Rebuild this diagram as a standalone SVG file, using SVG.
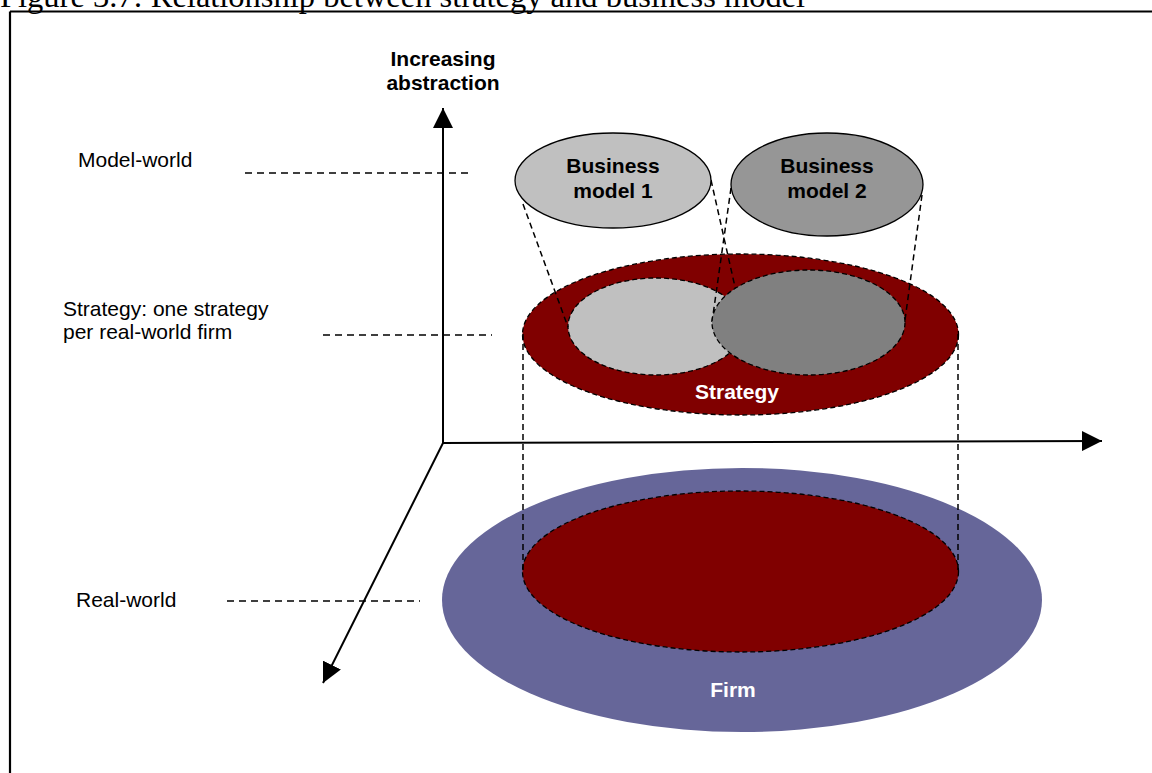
<svg xmlns="http://www.w3.org/2000/svg" width="1152" height="773" viewBox="0 0 1152 773">
<defs>
<style>
.lbl{font-family:"Liberation Sans",Arial,sans-serif;font-size:21px;fill:#000}
.bold{font-family:"Liberation Sans",Arial,sans-serif;font-size:21px;font-weight:bold;text-anchor:middle}
.axis{stroke:#000;stroke-width:2;fill:none}
.ref{stroke:#000;stroke-width:1.5;stroke-dasharray:7,5;fill:none}
.proj{stroke:#000;stroke-width:1.5;stroke-dasharray:6,4;fill:none}
.edge{stroke:#000;stroke-width:1.3;stroke-dasharray:5,3}
</style>
<marker id="arr" markerWidth="20" markerHeight="20" refX="20" refY="10" orient="auto" markerUnits="userSpaceOnUse">
<path d="M0,0 L20,10 L0,20 Z" fill="#000"/>
</marker>
</defs>
<rect width="1152" height="773" fill="#fff"/>
<text x="0" y="7" font-family="'Liberation Serif','Times New Roman',serif" font-size="32.5">Figure 3.7: Relationship between strategy and business model</text>
<path d="M10,11.5 H1152 M10,11.5 V773" stroke="#000" stroke-width="2.2" fill="none"/>

<g id="firm">
<ellipse cx="742" cy="600" rx="300" ry="132" fill="#666699"/>
<text class="bold" x="733" y="697" fill="#fff">Firm</text>
</g>
<g id="firm-strategy">
<ellipse class="edge" cx="740.5" cy="571.5" rx="218" ry="80.5" fill="#800000"/>
</g>

<g id="axes">
<line class="axis" x1="443" y1="443" x2="443" y2="108" marker-end="url(#arr)"/>
<line class="axis" x1="443" y1="443" x2="1102" y2="441" marker-end="url(#arr)"/>
<line class="axis" x1="443" y1="443" x2="323" y2="683" marker-end="url(#arr)"/>
<text class="bold" x="443" y="66" fill="#000">Increasing</text>
<text class="bold" x="443" y="90" fill="#000">abstraction</text>
</g>

<g id="levels">
<text class="lbl" x="78" y="167">Model-world</text>
<line class="ref" x1="245" y1="173" x2="470" y2="173"/>
<text class="lbl" x="63" y="316">Strategy: one strategy</text>
<text class="lbl" x="63" y="339">per real-world firm</text>
<line class="ref" x1="323" y1="335" x2="492" y2="335"/>
<text class="lbl" x="76" y="607">Real-world</text>
<line class="ref" x1="227" y1="601" x2="420" y2="601"/>
</g>

<g id="strategy">
<ellipse class="edge" cx="740.5" cy="334.5" rx="218" ry="80.5" fill="#800000"/>
<text class="bold" x="737" y="399" fill="#fff">Strategy</text>
</g>
<g id="strategy-bm1">
<ellipse class="edge" cx="656" cy="326.5" rx="88" ry="48.5" fill="#c0c0c0"/>
</g>

<g id="connectors">
<line class="proj" x1="523" y1="334" x2="523" y2="571"/>
<line class="proj" x1="958" y1="334" x2="958" y2="571"/>
<line class="proj" x1="523" y1="204" x2="568" y2="327"/>
<line class="proj" x1="711" y1="180" x2="744" y2="327"/>
<line class="proj" x1="731" y1="188" x2="712" y2="322"/>
<line class="proj" x1="922" y1="195" x2="905" y2="320"/>
</g>

<g id="strategy-bm2">
<ellipse class="edge" cx="808.5" cy="322.5" rx="96.5" ry="52.5" fill="#808080"/>
</g>

<g id="bm1">
<ellipse cx="613" cy="180.5" rx="98" ry="47.5" fill="#c0c0c0" stroke="#000" stroke-width="1.3"/>
<text class="bold" x="613" y="173" fill="#000">Business</text>
<text class="bold" x="613" y="198" fill="#000">model 1</text>
</g>
<g id="bm2">
<ellipse cx="827" cy="184.5" rx="96" ry="51.5" fill="#969696" stroke="#000" stroke-width="1.3"/>
<text class="bold" x="827" y="173" fill="#000">Business</text>
<text class="bold" x="827" y="198" fill="#000">model 2</text>
</g>
</svg>
